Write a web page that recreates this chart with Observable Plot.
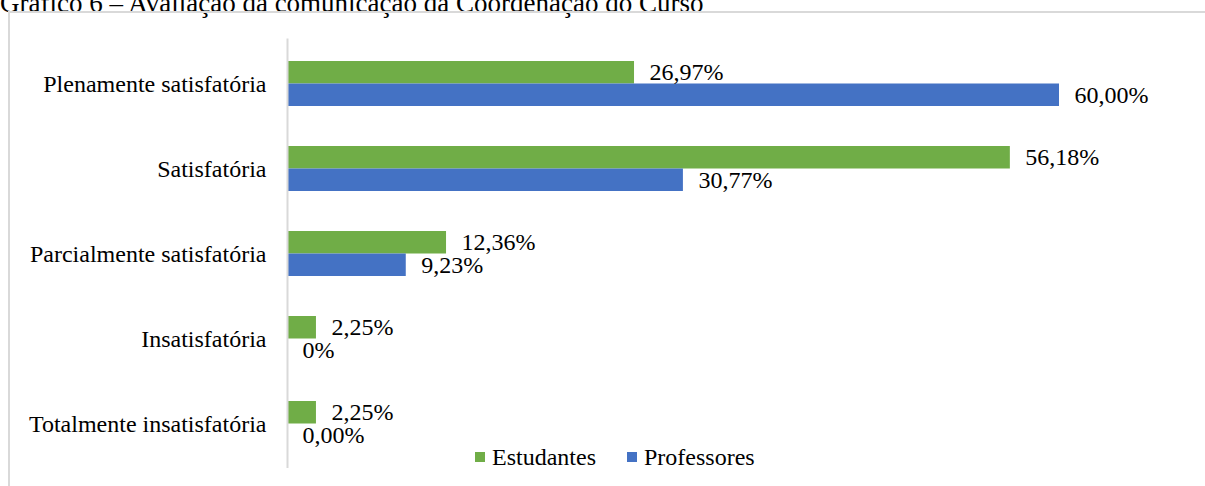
<!DOCTYPE html>
<html><head><meta charset="utf-8">
<script src="https://cdn.jsdelivr.net/npm/d3@7"></script>
<script src="https://cdn.jsdelivr.net/npm/@observablehq/plot@0.6"></script>
<style>
body{margin:0;background:#fff;width:1205px;height:486px;overflow:hidden;position:relative;font-family:"Liberation Serif","Times New Roman",serif;color:#000;}
#title{position:absolute;left:0;top:-10px;font-size:27px;line-height:27px;white-space:nowrap;}
#box{position:absolute;left:8px;top:11px;width:1300px;height:600px;border:2px solid #d9d9d9;box-sizing:border-box;}
#chart{position:absolute;left:0;top:0;}
.lg{position:absolute;top:445px;font-size:24px;line-height:24px;white-space:nowrap;}
.sw{position:absolute;top:452px;width:10px;height:10px;}
</style></head>
<body>
<div id="title">Gráfico 6 – Avaliação da comunicação da Coordenação do Curso</div>
<div id="box"></div>
<div id="chart"></div>
<div id="legend"></div>
<script>
const categories = ["Plenamente satisfatória","Satisfatória","Parcialmente satisfatória","Insatisfatória","Totalmente insatisfatória"];
const series = ["Estudantes","Professores"];
const estudantes = [26.97, 56.18, 12.36, 2.25, 2.25];
const professores = [60.00, 30.77, 9.23, 0, 0];
const estudantesLabels = ["26,97%","56,18%","12,36%","2,25%","2,25%"];
const professoresLabels = ["60,00%","30,77%","9,23%","0%","0,00%"];
const colors = ["#70AD47","#4472C4"];

const rows = categories.map((c,i)=>({c, e:estudantes[i], p:professores[i], le:estudantesLabels[i], lp:professoresLabels[i]}));

const chart = Plot.plot({
  width:1205, height:486,
  marginLeft:287, marginRight:146, marginTop:38.5, marginBottom:18,
  style:{fontFamily:'"Liberation Serif","Times New Roman",serif', fontSize:"24px", color:"black", background:"transparent", overflow:"visible"},
  x:{domain:[0,60], axis:null},
  y:{domain:categories, paddingInner:0.476, paddingOuter:0.238, axis:null},
  marks:[
    Plot.barX(rows,{x:"e", y:"c", fill:colors[0], insetBottom:22.5}),
    Plot.barX(rows,{x:"p", y:"c", fill:colors[1], insetTop:22.5}),
    Plot.ruleX([0],{stroke:"#d9d9d9", strokeWidth:2}),
    Plot.axisY({tickSize:0, tickPadding:21, label:null, fontSize:24, fill:"black"}),
    Plot.text(rows,{x:"e", y:"c", text:"le", dx:15, dy:-11.25, textAnchor:"start", fill:"black", fontSize:24}),
    Plot.text(rows,{x:"p", y:"c", text:"lp", dx:15, dy:11.25, textAnchor:"start", fill:"black", fontSize:24})
  ]
});
document.getElementById("chart").appendChild(chart);

const legend = document.getElementById("legend");
const lefts = [475, 627];
series.forEach((s,i)=>{
  const sw = document.createElement("div");
  sw.className="sw"; sw.style.left=lefts[i]+"px"; sw.style.background=colors[i];
  const t = document.createElement("div");
  t.className="lg"; t.style.left=(lefts[i]+17)+"px"; t.textContent=s;
  legend.appendChild(sw); legend.appendChild(t);
});
</script>
</body></html>
